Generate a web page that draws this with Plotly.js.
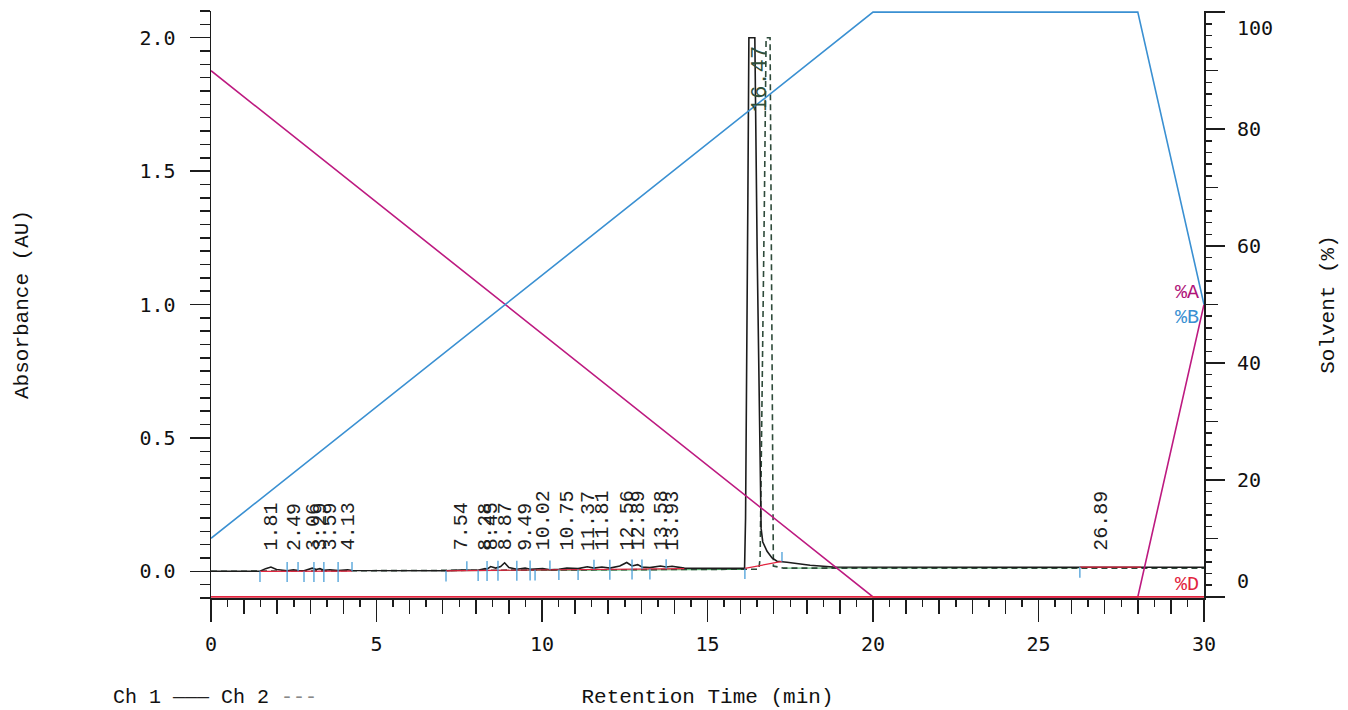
<!DOCTYPE html>
<html>
<head>
<meta charset="utf-8">
<script src="https://cdn.plot.ly/plotly-3.0.1.min.js"></script>
<style>html,body{margin:0;padding:0;background:#fff;}#chart{width:1348px;height:710px;}</style>
</head>
<body>
<div id="chart"></div>
<script>
// ---------- Data ----------
// Channel 1 (solid) retention time (min) and absorbance (AU)
const ch1Time = [0, 1.48, 1.65, 1.81, 1.98, 2.30, 2.49, 2.63, 2.81, 2.95, 3.06, 3.18, 3.29, 3.41, 3.59, 3.84, 4.13, 4.26,
  7.10, 7.54, 8.07, 8.28, 8.34, 8.45, 8.60, 8.75, 8.87, 9.00, 9.24, 9.49, 9.64, 10.02, 10.24, 10.51, 10.75, 11.09, 11.37,
  11.57, 11.81, 12.05, 12.35, 12.56, 12.72, 12.89, 13.02, 13.26, 13.58, 13.75, 13.93, 14.30, 16.10,
  16.12, 16.15, 16.18, 16.22, 16.25, 16.43, 16.50, 16.56, 16.59, 16.62, 16.67, 16.80, 16.95, 17.10, 17.40, 17.80, 18.10, 18.80, 30];
const ch1AU = [0, 0, 0.010, 0.016, 0.007, 0.002, 0.006, 0.003, 0.002, 0.008, 0.012, 0.007, 0.010, 0.004, 0.006, 0.003, 0.006, 0.003,
  0.002, 0.005, 0.004, 0.010, 0.008, 0.018, 0.012, 0.018, 0.032, 0.014, 0.008, 0.012, 0.008, 0.010, 0.006, 0.008, 0.012, 0.010, 0.017,
  0.012, 0.016, 0.012, 0.020, 0.033, 0.020, 0.025, 0.016, 0.014, 0.020, 0.016, 0.019, 0.012, 0.011,
  0.011, 0.20, 0.60, 1.40, 2.00, 2.00, 1.20, 0.60, 0.35, 0.16, 0.11, 0.075, 0.050, 0.038, 0.034, 0.027, 0.023, 0.016, 0.015];

// Channel 2 (dashed)
const ch2Time = [0, 16.55, 16.59, 16.65, 16.72, 16.77, 16.89, 16.93, 16.96, 16.99, 17.30, 30];
const ch2AU   = [0, 0.008, 0.05, 0.60, 1.40, 2.00, 2.00, 1.20, 0.40, 0.02, 0.012, 0.012];

// Integration baselines (red), segments separated by null
const baseTime = [1.48, 4.26, null, 7.10, 14.30, null, 16.13, 17.25, null, 26.25, 28.10];
const baseAU   = [0.000, 0.001, null, 0.002, 0.010, null, 0.011, 0.037, null, 0.016, 0.016];

// Channel 2 baseline (green)
const greenTime = [7.10, 16.10, null, 17.30, 26.25];
const greenAU   = [0.002, 0.007, null, 0.012, 0.013];

// Peak start/stop markers (blue): time, local baseline, direction (-1 below, 0 both, 1 above)
const markTime = [1.48, 2.30, 2.63, 2.81, 3.11, 3.41, 3.84, 4.26, 7.10, 7.73, 8.07, 8.34, 8.67, 9.24, 9.64, 9.79,
  10.24, 10.51, 11.09, 11.57, 12.05, 12.72, 13.02, 13.26, 13.75, 16.13, 17.25, 26.25];
const markBase = [0, 0, 0, 0, 0, 0, 0, 0, 0.002, 0.003, 0.004, 0.004, 0.005, 0.005, 0.006, 0.006,
  0.006, 0.007, 0.007, 0.008, 0.008, 0.009, 0.009, 0.009, 0.010, 0.011, 0.037, 0.016];
const markDir  = [-1, 0, 1, -1, 0, 0, 0, 1, -1, 1, -1, 0, 0, 0, 0, -1, 1, -1, -1, 1, 0, 0, 1, -1, 1, -1, 1, -1];

// Peak retention-time labels
const peakLabels = [1.81, 2.49, 3.06, 3.29, 3.59, 4.13, 7.54, 8.28, 8.45, 8.87, 9.49, 10.02, 10.75, 11.37, 11.81,
  12.56, 12.89, 13.58, 13.93, 26.89];
const mainPeak = 16.47;

// Solvent gradient (%)
const gradTime = [0, 20, 28, 30];
const solventA = [90, 0, 0, 50];
const solventB = [10, 100, 100, 50];
const solventD = [0, 0, 0, 0];

// Tick labels
const xTickVals = [0, 5, 10, 15, 20, 25, 30];
const xTickText = ['0', '5', '10', '15', '20', '25', '30'];
const yTickVals = [0, 0.5, 1.0, 1.5, 2.0];
const yTickText = ['0.0', '0.5', '1.0', '1.5', '2.0'];
const y2TickVals = [0, 20, 40, 60, 80, 100];
const y2TickText = ['0', '20', '40', '60', '80', '100'];

// ---------- Styling ----------
const INK = '#1c1c1c';
const MAG = '#bd1a80';
const BLU = '#3a90d2';
const RED = '#e2243e';
const MARKC = '#4a9fd8';
const monoSerif = 'Liberation Mono, Courier New, monospace';
const monoSans = 'DejaVu Sans Mono, monospace';

// marker segments
const mkX = [], mkY = [];
markTime.forEach((t, i) => {
  const b = markBase[i], d = markDir[i];
  const lo = d === 1 ? b : b - 0.04;
  const hi = d === -1 ? b : b + 0.035;
  mkX.push(t, t, null); mkY.push(lo, hi, null);
});

const dummy = (xa, ya) => ({x: [null], y: [null], xaxis: xa, yaxis: ya, type: 'scatter', mode: 'lines',
  hoverinfo: 'skip', showlegend: false});

const traces = [
  {x: greenTime, y: greenAU, type: 'scatter', mode: 'lines', line: {color: '#3fae5a', width: 1}, xaxis: 'x', yaxis: 'y', hoverinfo: 'skip'},
  {x: ch2Time, y: ch2AU, type: 'scatter', mode: 'lines', name: 'Ch 2', line: {color: '#2e4a3a', width: 1.6, dash: '6px,4px'}, xaxis: 'x', yaxis: 'y'},
  {x: ch1Time, y: ch1AU, type: 'scatter', mode: 'lines', name: 'Ch 1', line: {color: INK, width: 1.6}, xaxis: 'x', yaxis: 'y'},
  {x: baseTime, y: baseAU, type: 'scatter', mode: 'lines', line: {color: RED, width: 1.2}, xaxis: 'x', yaxis: 'y', hoverinfo: 'skip', connectgaps: false},
  {x: mkX, y: mkY, type: 'scatter', mode: 'lines', line: {color: MARKC, width: 1.3}, xaxis: 'x', yaxis: 'y', hoverinfo: 'skip', connectgaps: false},
  {x: gradTime, y: solventA, type: 'scatter', mode: 'lines', name: '%A', line: {color: MAG, width: 1.6}, xaxis: 'x', yaxis: 'y2'},
  {x: gradTime, y: solventB, type: 'scatter', mode: 'lines', name: '%B', line: {color: BLU, width: 1.6}, xaxis: 'x', yaxis: 'y2'},
  {x: gradTime, y: solventD, type: 'scatter', mode: 'lines', name: '%D', line: {color: RED, width: 1.6}, xaxis: 'x', yaxis: 'y2'},
  dummy('x2', 'y'), dummy('x3', 'y'), dummy('x', 'y3'), dummy('x', 'y4'), dummy('x', 'y5')
];

const annotations = [];
peakLabels.forEach(t => {
  annotations.push({x: t, y: 0.07, xref: 'x', yref: 'y', text: t.toFixed(2), showarrow: false, textangle: -90,
    xanchor: 'center', yanchor: 'bottom', xshift: 1, font: {family: monoSerif, size: 20, color: '#1e1e1e'}});
});
annotations.push({x: mainPeak, y: 1.715, xref: 'x', yref: 'y', text: mainPeak.toFixed(2), showarrow: false, textangle: -90,
  xanchor: 'center', yanchor: 'bottom', xshift: 5, font: {family: monoSerif, size: 22, color: '#2f4f3a'}});
// right axis labels
y2TickVals.forEach((v, i) => {
  let ys = 0;
  if (i === 0) ys = 16;
  if (i === y2TickVals.length - 1) ys = -16;
  annotations.push({x: 1, y: v, xref: 'paper', yref: 'y2', text: y2TickText[i], showarrow: false,
    xanchor: 'left', yanchor: 'middle', xshift: 31, yshift: ys, font: {family: monoSans, size: 20, color: '#111'}});
});
// solvent labels
const last = gradTime.length - 1;
annotations.push({x: gradTime[last], y: solventA[last], xref: 'x', yref: 'y2', text: '%A', showarrow: false, xanchor: 'right', yanchor: 'middle', xshift: -3, yshift: 12, font: {family: monoSerif, size: 20, color: '#b0157a'}});
annotations.push({x: gradTime[last], y: solventB[last], xref: 'x', yref: 'y2', text: '%B', showarrow: false, xanchor: 'right', yanchor: 'middle', xshift: -3, yshift: -13, font: {family: monoSerif, size: 20, color: BLU}});
annotations.push({x: gradTime[last], y: solventD[last], xref: 'x', yref: 'y2', text: '%D', showarrow: false, xanchor: 'right', yanchor: 'middle', xshift: -3, yshift: 12, font: {family: monoSerif, size: 20, color: RED}});
// channel legend
annotations.push({x: 0, y: 0, xref: 'paper', yref: 'paper', text: 'Ch 1 <span style="color:#222">———</span> Ch 2 <span style="color:#888">---</span>', showarrow: false,
  xanchor: 'left', yanchor: 'middle', xshift: -100, yshift: -99, font: {family: monoSerif, size: 20, color: '#111'}});

const tickStyle = {ticks: 'outside', tickcolor: INK, tickwidth: 1.5, showgrid: false, zeroline: false};
const layout = {
  width: 1348, height: 710,
  margin: {l: 211, r: 144, t: 11, b: 112},
  paper_bgcolor: '#ffffff', plot_bgcolor: '#ffffff',
  showlegend: false,
  xaxis: Object.assign({}, tickStyle, {range: [0, 30], tickmode: 'array', tickvals: xTickVals, ticktext: xTickText, ticklen: 22,
    showline: true, linecolor: INK, linewidth: 1.5, automargin: false, ticklabelstandoff: 5,
    tickfont: {family: monoSans, size: 20, color: '#111'},
    title: {text: 'Retention Time (min)', font: {family: monoSerif, size: 21, color: '#111'}, standoff: 34}}),
  xaxis2: Object.assign({}, tickStyle, {overlaying: 'x', anchor: 'y', side: 'bottom', range: [0, 30], tickmode: 'linear', tick0: 0, dtick: 1, ticklen: 15, showticklabels: false, showline: false}),
  xaxis3: Object.assign({}, tickStyle, {overlaying: 'x', anchor: 'y', side: 'bottom', range: [0, 30], tickmode: 'linear', tick0: 0, dtick: 0.5, ticklen: 8, showticklabels: false, showline: false}),
  yaxis: Object.assign({}, tickStyle, {range: [-0.1, 2.1], tickmode: 'array', tickvals: yTickVals, ticktext: yTickText, ticklen: 20,
    showline: true, linecolor: INK, linewidth: 1.5, automargin: false, ticklabelstandoff: 10,
    tickfont: {family: monoSans, size: 20, color: '#111'},
    title: {text: 'Absorbance (AU)', font: {family: monoSerif, size: 21, color: '#111'}, standoff: 105}}),
  yaxis4: Object.assign({}, tickStyle, {overlaying: 'y', anchor: 'x', side: 'left', range: [-0.1, 2.1], tickmode: 'linear', tick0: 0, dtick: 0.05, ticklen: 10, showticklabels: false, showline: false}),
  yaxis2: Object.assign({}, tickStyle, {overlaying: 'y', anchor: 'x', side: 'right', range: [-0.2, 100.2], tickmode: 'array', tickvals: y2TickVals, ticktext: y2TickText, ticklen: 19,
    showticklabels: false, showline: true, linecolor: INK, linewidth: 1.5, automargin: false,
    title: {text: 'Solvent (%)', font: {family: monoSerif, size: 21, color: '#111'}, standoff: 96}}),
  yaxis3: Object.assign({}, tickStyle, {overlaying: 'y', anchor: 'x', side: 'right', range: [-0.2, 100.2], tickmode: 'linear', tick0: 0, dtick: 10, ticklen: 13, showticklabels: false, showline: false}),
  yaxis5: Object.assign({}, tickStyle, {overlaying: 'y', anchor: 'x', side: 'right', range: [-0.2, 100.2], tickmode: 'linear', tick0: 0, dtick: 2, ticklen: 7, showticklabels: false, showline: false}),
  annotations: annotations
};

Plotly.newPlot('chart', traces, layout, {staticPlot: true, displayModeBar: false});
</script>
</body>
</html>
